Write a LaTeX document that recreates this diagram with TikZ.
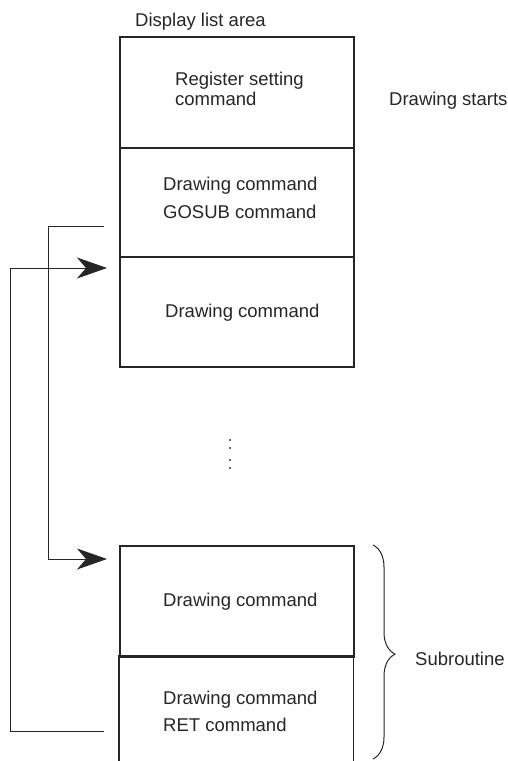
\documentclass[tikz,border=0pt]{standalone}
\usepackage{fontspec}
\setmainfont{Liberation Sans}
\usetikzlibrary{arrows.meta,decorations.pathreplacing}
\begin{document}
\begin{tikzpicture}[x=1pt,y=-1pt,
  cell/.style={draw=black!85,line width=1.6pt,rectangle,minimum width=234pt,inner sep=0pt,anchor=north west},
  lbl/.style={anchor=base west,inner sep=0pt,font=\fontsize{18.5}{20}\selectfont,text=black!85},
  link/.style={draw=black!85,line width=1pt},
  tip/.style={-{Stealth[length=30pt,width=21pt,inset=9pt]}},
  dot/.style={fill=black!80,circle,inner sep=0pt,minimum size=2.4pt}]
\useasboundingbox (0,0) rectangle (508,761);
% top stack
\node[cell,minimum height=111pt] (r1) at (119,36) {};
\node[cell,minimum height=109pt] (r2) at (119,147) {};
\node[cell,minimum height=110pt] (r3) at (119,256) {};
% bottom stack
\node[cell,minimum height=111pt] (s1) at (119,545) {};
\node[inner sep=0pt,minimum width=234pt,minimum height=105pt,anchor=north west] (s2) at (119,656) {};
\draw[line width=1.6pt,draw=black!85] (s2.south west) -- (s2.north west) -- (s2.north east) -- (s2.south east);
% texts
\node[lbl] (title) at (135,26) {Display list area};
\node[lbl] (t1a) at (175,85) {Register setting};
\node[lbl] (t1b) at (175,105) {command};
\node[lbl] (start) at (389,105.5) {Drawing starts};
\node[lbl] (t2a) at (163,190.5) {Drawing command};
\node[lbl] (t2b) at (163,218) {GOSUB command};
\node[lbl] (t3) at (165,317.5) {Drawing command};
\node[lbl] (t4) at (163,606.5) {Drawing command};
\node[lbl] (t5a) at (163,704) {Drawing command};
\node[lbl] (t5b) at (163,731.5) {RET command};
\node[lbl] (sub) at (415,665) {Subroutine};
% dots
\node[dot] (d1) at (230,440) {};
\node[dot] (d2) at (230,448) {};
\node[dot] (d3) at (230,460) {};
\node[dot] (d4) at (230,468) {};
% connectors
\coordinate (gosub) at (104,226);
\coordinate (subin) at (107,559);
\coordinate (ret) at (104,731);
\coordinate (back) at (107,268);
\draw[link,tip] (gosub) -- (48,226) |- (subin);
\draw[link,tip] (ret) -- (10,731) |- (back);
% brace
\coordinate (b1) at (373,545);
\coordinate (b2) at (373,759);
\draw[link,decorate,decoration={brace,amplitude=22pt,aspect=0.51}] (b1) -- (b2);
\end{tikzpicture}
\end{document}
